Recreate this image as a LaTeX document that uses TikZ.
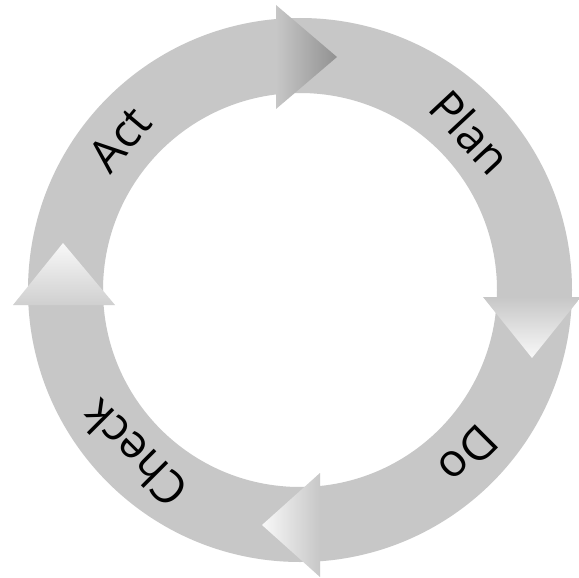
\documentclass[tikz,border=0pt]{standalone}
\usepackage{fontspec}
\setmainfont{Open Sans}
\definecolor{ringgray}{RGB}{199,199,199}
\definecolor{darktip}{RGB}{145,145,145}
\definecolor{lighttip}{RGB}{248,248,248}
\tikzset{
  lbl/.style={font=\fontsize{46}{50}\selectfont, text=black, inner sep=0pt},
}
\begin{document}
\begin{tikzpicture}[x=1pt,y=-1pt]
\useasboundingbox (0,0) rectangle (579,578);
\fill[white] (0,0) rectangle (579,578);
% ring
\fill[ringgray, even odd rule] (300,290) circle[radius=272pt] (300,290) circle[radius=197pt];
% arrowheads
\shade[left color=ringgray, right color=darktip] (276,5) -- (276,109) -- (337,57) -- cycle;
\shade[top color=ringgray, bottom color=lighttip] (483,297) -- (581,297) -- (532,358) -- cycle;
\shade[right color=ringgray, left color=lighttip] (320,473) -- (320,577) -- (262,525) -- cycle;
\shade[bottom color=ringgray!85!white, top color=lighttip] (13,305) -- (115,305) -- (63,243) -- cycle;
% labels
\node[lbl, rotate=50] (act) at (120,139) {Act};
\node[lbl, rotate=-47] (plan) at (471,132) {Plan};
\node[lbl, rotate=225] (do) at (468,455) {Do};
\node[lbl, rotate=135] (check) at (134,454) {Check};
\end{tikzpicture}
\end{document}
